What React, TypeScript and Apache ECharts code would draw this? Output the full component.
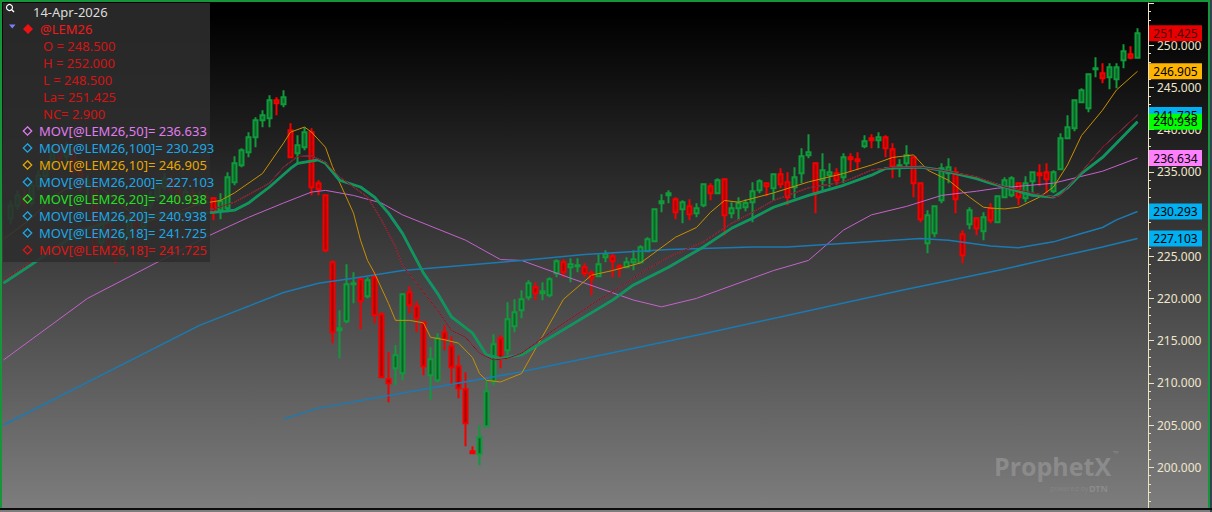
import React, { useEffect, useRef } from "react";
import * as echarts from "echarts";

const W = 1212;
const H = 512;

// Candles: [open, close, low, high], oldest first
const candles: [number, number, number, number][] = [
  [229.5, 231.0, 228.8, 231.6], [231.0, 232.2, 230.5, 232.8], [232.0, 231.2, 230.6, 232.9], [231.3, 233.4, 230.9, 233.9],
  [233.3, 234.6, 232.8, 235.2], [234.5, 235.8, 234.0, 236.4], [235.9, 237.6, 235.3, 238.2], [237.8, 236.6, 236.1, 238.6],
  [236.8, 237.9, 235.9, 238.5], [237.5, 235.0, 234.6, 238.0], [235.0, 233.2, 232.6, 235.6], [233.3, 233.9, 232.1, 234.6],
  [233.5, 226.4, 225.8, 233.9], [226.6, 228.9, 225.9, 229.6], [229.1, 226.3, 225.6, 229.5], [226.2, 224.8, 224.2, 227.0],
  [225.0, 227.6, 224.6, 228.1], [227.7, 229.4, 227.0, 230.0], [229.2, 228.4, 227.8, 229.9], [228.5, 231.0, 228.1, 231.5],
  [231.1, 232.1, 230.6, 232.7], [232.0, 233.3, 231.5, 233.9], [233.2, 234.2, 232.8, 234.9], [234.1, 232.9, 232.4, 234.6],
  [232.9, 231.8, 231.2, 233.4], [231.7, 232.6, 231.2, 233.1], [232.5, 231.3, 230.8, 233.0], [231.4, 232.1, 230.9, 232.7],
  [232.0, 231.9, 231.3, 232.6], [231.87, 230.21, 229.26, 232.0], [230.45, 231.52, 229.38, 232.46], [230.69, 234.36, 230.21, 234.95],
  [233.77, 236.02, 233.41, 236.85], [235.78, 237.56, 235.54, 237.8], [237.32, 239.1, 236.73, 239.69], [239.1, 241.11, 237.9, 241.47],
  [241.11, 241.71, 240.28, 242.3], [241.35, 243.48, 240.28, 244.08], [243.48, 243.13, 241.71, 243.84], [243.0, 243.84, 242.65, 244.67],
  [239.93, 236.73, 236.6, 240.76], [237.2, 238.15, 236.02, 239.34], [237.91, 239.69, 237.56, 240.28], [239.69, 233.18, 232.23, 240.17],
  [233.65, 232.94, 232.23, 234.0], [232.23, 225.71, 225.47, 232.35], [224.29, 216.0, 214.69, 224.5], [216.23, 216.47, 212.91, 218.6],
  [217.3, 221.68, 217.06, 224.05], [221.68, 221.8, 219.43, 223.1], [222.27, 219.67, 216.35, 222.51], [220.26, 222.16, 220.02, 222.51],
  [222.51, 218.01, 217.06, 223.1], [218.13, 210.66, 210.55, 218.36], [210.43, 209.95, 207.7, 213.63], [211.73, 213.27, 209.72, 214.45],
  [211.14, 220.5, 210.31, 220.62], [220.74, 219.19, 218.25, 221.45], [219.08, 217.65, 215.99, 219.67], [217.18, 211.97, 210.9, 217.3],
  [210.9, 212.8, 207.94, 214.22], [210.31, 215.28, 210.07, 215.88], [216.0, 215.17, 213.86, 216.82], [214.34, 211.85, 209.72, 215.52],
  [211.97, 209.36, 208.18, 213.27], [209.24, 205.21, 202.49, 211.26], [201.9, 201.66, 201.66, 202.49], [201.54, 203.55, 200.24, 204.98],
  [204.86, 209.0, 204.74, 210.31], [210.19, 214.57, 209.72, 215.76], [215.28, 212.91, 211.73, 215.64], [213.86, 217.54, 213.27, 219.55],
  [216.71, 218.36, 215.99, 219.91], [218.6, 219.91, 217.65, 220.97], [220.14, 221.8, 219.79, 222.16], [221.33, 220.62, 219.79, 221.92],
  [220.62, 220.85, 219.79, 221.92], [220.38, 222.27, 220.14, 222.51], [222.98, 224.41, 222.51, 224.64], [224.29, 223.1, 222.51, 224.64],
  [223.7, 224.05, 221.92, 224.76], [223.82, 223.93, 223.1, 224.76], [223.7, 222.98, 222.51, 224.17], [222.98, 222.39, 220.38, 223.34],
  [222.63, 224.05, 222.51, 225.24], [224.88, 225.24, 224.29, 225.71], [225.0, 224.41, 222.51, 225.36], [223.82, 223.58, 222.51, 224.05],
  [223.7, 224.29, 223.58, 224.88], [224.29, 224.64, 223.34, 225.71], [224.29, 226.07, 224.17, 226.3], [225.59, 227.01, 225.47, 227.25],
  [226.78, 230.57, 226.66, 230.69], [231.28, 231.52, 230.21, 232.35], [232.23, 232.46, 231.28, 232.82], [231.75, 230.21, 229.38, 231.99],
  [230.57, 231.4, 228.91, 231.64], [230.92, 229.98, 229.26, 231.75], [230.09, 230.69, 229.62, 231.28], [231.04, 233.53, 230.81, 233.65],
  [233.29, 232.46, 231.64, 233.65], [232.46, 234.0, 232.35, 234.24], [234.12, 229.86, 227.49, 234.24], [230.09, 230.69, 229.5, 231.4],
  [230.69, 231.28, 229.26, 231.99], [230.8, 231.3, 230.33, 231.75], [231.4, 232.7, 229.03, 233.77], [232.82, 233.89, 232.46, 234.12],
  [233.65, 233.29, 232.11, 233.77], [233.06, 234.72, 231.64, 234.83], [234.72, 233.53, 233.06, 235.43], [233.77, 231.99, 231.04, 234.95],
  [233.18, 234.36, 231.87, 235.55], [234.83, 236.85, 233.65, 237.8], [236.97, 237.32, 236.61, 239.45], [236.02, 232.46, 230.09, 236.14],
  [234.0, 235.19, 232.82, 237.2], [234.6, 234.95, 233.18, 236.02], [234.83, 234.0, 233.41, 235.43], [234.36, 236.73, 233.65, 237.2],
  [236.73, 236.49, 234.95, 237.2], [236.49, 236.26, 235.19, 237.32], [238.03, 238.63, 237.8, 239.34], [238.98, 238.74, 237.8, 239.45],
  [238.74, 239.1, 237.8, 239.69], [239.1, 237.8, 236.73, 239.34], [237.68, 235.66, 234.24, 238.39], [235.55, 235.78, 234.36, 236.49],
  [236.02, 236.97, 235.43, 238.15], [236.73, 233.65, 231.99, 236.85], [233.65, 229.38, 229.03, 233.77], [226.54, 229.86, 225.36, 230.45],
  [227.73, 230.92, 227.25, 231.04], [231.64, 235.43, 231.28, 236.02], [234.83, 235.55, 233.65, 236.61], [234.95, 231.75, 230.09, 235.55],
  [227.61, 225.12, 224.17, 228.08], [228.79, 230.45, 228.2, 230.81], [229.5, 228.32, 227.49, 229.62], [227.96, 229.62, 226.9, 230.21],
  [230.69, 229.26, 228.91, 231.28], [229.03, 232.11, 228.91, 232.23], [231.99, 234.0, 231.87, 234.36], [232.23, 234.24, 231.99, 234.48],
  [233.65, 231.99, 231.04, 233.77], [231.87, 233.65, 231.4, 234.48], [233.89, 234.95, 232.58, 235.07], [234.83, 234.6, 233.29, 235.9],
  [234.95, 234.12, 232.46, 236.02], [232.7, 234.95, 232.46, 235.19], [235.31, 238.98, 235.19, 239.57], [238.98, 240.28, 238.86, 241.71],
  [240.17, 243.48, 239.81, 243.6], [243.25, 244.67, 243.13, 244.91], [242.54, 246.56, 242.06, 246.68], [247.16, 247.27, 246.21, 248.58],
  [246.68, 246.09, 245.5, 247.87], [246.21, 247.39, 244.79, 247.87], [245.97, 247.39, 244.91, 247.87], [248.22, 249.29, 247.27, 250.12],
  [248.93, 248.525, 248.34, 249.88], [248.5, 251.425, 248.5, 252.0],
];

// Moving averages: [candle index, value]; index -1 = left edge
const ma10: [number, number][] = [
  [-1, 227.0], [3, 229.5], [6, 232.0], [10, 234.0], [13, 233.0], [16, 231.0], [19, 229.0], [23, 230.0], [27, 231.2],
  [30, 231.6], [32, 232.5], [36, 234.8], [39, 238.4], [40, 239.7], [42, 240.3], [43, 239.7], [45, 237.9], [46, 235.6],
  [49, 230.1], [50, 226.9], [51, 224.5], [52, 223.0], [54, 219.4], [55, 217.4], [57, 217.4], [59, 217.1], [60, 215.4],
  [62, 215.1], [64, 214.7], [66, 213.0], [67, 211.1], [68, 210.3], [70, 210.1], [73, 211.1], [76, 215.5], [79, 219.9],
  [83, 222.75], [86, 223.3], [90, 224.2], [95, 227.25], [98, 228.4], [100, 230.2], [102, 231.6], [104, 231.4], [109, 232.5],
  [114, 233.8], [119, 234.8], [123, 235.8], [126, 236.7], [129, 237.0], [131, 235.2], [134, 234.0], [137, 232.0],
  [139, 230.8], [140, 230.7], [142, 230.6], [144, 230.8], [147, 232.0], [149, 233.2], [151, 235.8], [153, 239.3],
  [156, 242.3], [158, 244.7], [161, 246.905],
];
const ma18: [number, number][] = [
  [-1, 222.2], [3, 224.3], [10, 228.3], [16, 229.9], [22, 230.3], [29, 230.6], [32, 231.4], [37, 233.65], [39, 235.55],
  [41, 236.8], [43, 236.9], [45, 236.1], [47, 234.4], [49, 233.2], [51, 232.0], [53, 229.3], [55, 226.1], [56, 223.9],
  [58, 221.8], [61, 218.6], [63, 216.2], [65, 215.4], [67, 213.5], [69, 212.7], [71, 212.9], [73, 213.5], [78, 216.5],
  [84, 219.8], [87, 221.3], [90, 223.0], [94, 224.9], [99, 226.7], [103, 228.9], [106, 230.2], [109, 231.6], [114, 233.1],
  [119, 233.8], [123, 235.2], [126, 235.55], [130, 235.55], [133, 235.2], [138, 234.4], [140, 233.8], [142, 233.2],
  [146, 232.5], [149, 232.0], [150, 232.2], [153, 235.0], [156, 237.9], [161, 241.725],
];
const ma20: [number, number][] = [
  [-1, 221.8], [3, 224.0], [10, 228.0], [16, 229.6], [22, 229.9], [29, 230.2], [32, 230.45], [34, 231.3], [37, 233.2],
  [40, 235.4], [41, 236.0], [44, 236.4], [45, 236.0], [47, 234.0], [50, 233.2], [52, 232.0], [54, 230.1], [56, 227.7],
  [59, 223.0], [61, 220.6], [63, 217.8], [66, 215.9], [68, 213.3], [70, 212.9], [73, 213.3], [79, 216.3], [86, 219.8],
  [89, 221.6], [94, 223.7], [99, 226.1], [103, 228.3], [106, 229.5], [109, 230.8], [114, 232.2], [119, 233.4], [123, 234.6],
  [125, 235.4], [130, 235.55], [133, 235.2], [138, 234.2], [140, 233.65], [142, 233.2], [146, 232.2], [149, 232.0],
  [151, 233.1], [153, 234.8], [156, 236.7], [161, 240.938],
];
const ma50: [number, number][] = [
  [-1, 212.7], [11, 220.0], [28, 227.3], [34, 229.6], [39, 231.3], [43, 232.6], [45, 232.8], [49, 232.2], [53, 231.3],
  [56, 229.9], [65, 226.9], [70, 224.6], [73, 224.5], [80, 222.4], [89, 219.8], [93, 219.0], [98, 220.0], [106, 222.4],
  [109, 223.3], [114, 224.5], [119, 228.1], [123, 229.9], [128, 230.9], [133, 232.2], [138, 232.7], [141, 233.06],
  [149, 233.65], [156, 235.07], [161, 236.634],
];
const ma100: [number, number][] = [
  [-1, 205.0], [13, 210.9], [27, 216.8], [39, 220.7], [44, 221.8], [49, 222.4], [56, 223.3], [73, 224.5], [82, 225.2],
  [94, 225.8], [106, 226.1], [111, 226.1], [130, 227.1], [134, 226.9], [140, 226.2], [144, 226.0], [149, 226.7],
  [153, 227.7], [156, 228.4], [158, 229.3], [161, 230.293],
];
const ma200: [number, number][] = [
  [39, 205.7], [44, 207.0], [73, 211.3], [99, 215.8], [127, 220.9], [141, 223.3], [149, 224.8], [156, 226.1], [161, 227.103],
];

// Legend texts
const dateLabel = "14-Apr-2026";
const symbolLabel = "@LEM26";
const quoteLabels = ["O = 248.500", "H = 252.000", "L = 248.500", "La= 251.425", "NC= 2.900"];
const movLabels = [
  "MOV[@LEM26,50]= 236.633",
  "MOV[@LEM26,100]= 230.293",
  "MOV[@LEM26,10]= 246.905",
  "MOV[@LEM26,200]= 227.103",
  "MOV[@LEM26,20]= 240.938",
  "MOV[@LEM26,20]= 240.938",
  "MOV[@LEM26,18]= 241.725",
  "MOV[@LEM26,18]= 241.725",
];
const movColors = ["#e07cf0", "#1ca8e8", "#e8a800", "#1ca8e8", "#22e022", "#1ca8e8", "#1ca8e8", "#e01414"];

// Price tags on the axis
const tagValues = [251.425, 246.905, 241.725, 240.938, 236.634, 230.293, 227.103];
const tagColors = ["#e80000", "#ffb400", "#00b0f0", "#00ff00", "#ff80ff", "#00b0f0", "#00b0f0"];
const tagTextColors = ["#4a0000", "#000000", "#000000", "#000000", "#000000", "#000000", "#000000"];

const FONT = "'Noto Sans', 'DejaVu Sans', sans-serif";
const SLOTS = candles.length + 2;
const SLOT_W = 7;

function sparse(points: [number, number][]) {
  const arr: (number | null)[] = new Array(SLOTS).fill(null);
  for (const [i, v] of points) arr[i + 1] = v;
  return arr;
}

function diamond(cx: number, cy: number, r: number) {
  return [[cx, cy - r], [cx + r, cy], [cx, cy + r], [cx - r, cy]];
}

export default function App() {
  const ref = useRef<HTMLDivElement>(null);
  useEffect(() => {
    const el = ref.current;
    if (!el) return;
    const chart = echarts.init(el, undefined, { renderer: "svg", width: W, height: H });

    const cats = Array.from({ length: SLOTS }, (_, k) => String(k));
    const cdata: any[] = Array.from({ length: SLOTS }, (_, k) =>
      k >= 1 && k <= candles.length ? candles[k - 1] : "-"
    );

    const line = (name: string, pts: [number, number][], color: string, width: number, z = 3) => ({
      name,
      type: "line",
      data: sparse(pts),
      connectNulls: true,
      showSymbol: false,
      symbol: "none",
      smooth: false,
      z,
      lineStyle: { color, width },
      silent: true,
    });

    const base: any[] = [];
    // legend box
    base.push({ type: "rect", z: 100, shape: { x: 3, y: 3, width: 207, height: 259 }, style: { fill: "rgba(46,46,46,0.88)" } });
    // magnifier
    base.push({ type: "circle", z: 101, shape: { cx: 9.5, cy: 7.5, r: 3 }, style: { fill: "none", stroke: "#ffffff", lineWidth: 1.2 } });
    base.push({ type: "line", z: 101, shape: { x1: 11.7, y1: 9.7, x2: 14, y2: 12 }, style: { stroke: "#ffffff", lineWidth: 1.4 } });
    base.push({ type: "text", z: 101, x: 33, y: 12, style: { text: dateLabel, fill: "#dcdcdc", font: `13px ${FONT}`, textVerticalAlign: "middle" } });
    base.push({ type: "polygon", z: 101, shape: { points: [[9, 24.5], [15.5, 24.5], [12.25, 28.5]] }, style: { fill: "#7c7cff" } });
    base.push({ type: "polygon", z: 101, shape: { points: diamond(28, 29, 5) }, style: { fill: "#ee1111" } });
    base.push({ type: "text", z: 101, x: 40, y: 29, style: { text: symbolLabel, fill: "#f01a1a", font: `13px ${FONT}`, textVerticalAlign: "middle" } });
    quoteLabels.forEach((t, k) => {
      base.push({ type: "text", z: 101, x: 43, y: 46 + 17 * k, style: { text: t, fill: "#d41414", font: `13px ${FONT}`, textVerticalAlign: "middle" } });
    });
    movLabels.forEach((t, k) => {
      const y = 131 + 17 * k;
      base.push({ type: "polygon", z: 101, shape: { points: diamond(27.5, y, 4.2) }, style: { fill: "none", stroke: movColors[k], lineWidth: 1.3 } });
      base.push({ type: "text", z: 101, x: 39, y, style: { text: t, fill: movColors[k], font: `13px ${FONT}`, textVerticalAlign: "middle" } });
    });
    // watermark
    base.push({ type: "text", z: 90, x: 994, y: 466, style: { text: "ProphetX", fill: "#8b8b8b", font: `bold 25px 'Open Sans', ${FONT}`, textVerticalAlign: "middle" } });
    base.push({ type: "text", z: 90, x: 1113, y: 453, style: { text: "™", fill: "#8b8b8b", font: `7px ${FONT}`, textVerticalAlign: "middle" } });
    base.push({ type: "text", z: 90, x: 1050, y: 488, style: { text: "powered by", fill: "#848484", font: `7px ${FONT}`, textVerticalAlign: "middle" } });
    base.push({ type: "text", z: 90, x: 1089, y: 488, style: { text: "DTN", fill: "#8b8b8b", font: `bold 9px ${FONT}`, textVerticalAlign: "middle" } });
    // frame
    base.push({ type: "rect", z: 120, shape: { x: 0, y: 0, width: W, height: 2 }, style: { fill: "#16963a" } });
    base.push({ type: "rect", z: 120, shape: { x: 0, y: 0, width: 2, height: 509 }, style: { fill: "#16963a" } });
    base.push({ type: "rect", z: 120, shape: { x: 1208, y: 0, width: 2, height: 509 }, style: { fill: "#16963a" } });
    base.push({ type: "rect", z: 120, shape: { x: 1210, y: 0, width: 2, height: 512 }, style: { fill: "#34414e" } });
    base.push({ type: "rect", z: 120, shape: { x: 0, y: 508, width: W, height: 2 }, style: { fill: "#0c0c0c" } });

    const option: any = {
      animation: false,
      backgroundColor: "transparent",
      grid: { left: 0, top: 3, width: SLOTS * SLOT_W, height: 506.4, containLabel: false },
      xAxis: {
        type: "category",
        data: cats,
        boundaryGap: true,
        axisLine: { show: false },
        axisTick: { show: false },
        axisLabel: { show: false },
        splitLine: { show: false },
      },
      yAxis: {
        type: "value",
        position: "right",
        min: 195,
        max: 255,
        interval: 5,
        scale: true,
        axisLine: { show: true, lineStyle: { color: "#ece2c4", width: 1 } },
        axisTick: { show: true, length: 6, lineStyle: { color: "#ece2c4" } },
        minorTick: { show: true, splitNumber: 5, length: 3, lineStyle: { color: "#ece2c4" } },
        axisLabel: {
          show: true,
          margin: 9,
          color: "#efe6cc",
          fontFamily: FONT,
          fontSize: 12,
          showMinLabel: false,
          showMaxLabel: false,
          formatter: (v: number) => v.toFixed(3),
        },
        splitLine: { show: false },
      },
      series: [
        {
          type: "candlestick",
          data: cdata,
          barWidth: 5,
          z: 2,
          itemStyle: {
            color: "#086526",
            color0: "#a80000",
            borderColor: "#109a3c",
            borderColor0: "#f40000",
            borderWidth: 2,
          },
        },
        line("MOV50", ma50, "#c462cc", 1),
        line("MOV200", ma200, "#1a7bb4", 1.5),
        line("MOV100", ma100, "#1a7bb4", 1.5),
        line("MOV10", ma10, "#c88f00", 1),
        line("MOV20c", ma20, "#168aa0", 2.8),
        line("MOV20", ma20, "#0f9e34", 1.6),
        line("MOV18c", ma18, "#1aa0d8", 1),
        line("MOV18", ma18, "#a80000", 1),
      ],
      graphic: base,
    };
    chart.setOption(option);

    const tags: any[] = [];
    tagValues.forEach((v, k) => {
      const y = chart.convertToPixel({ yAxisIndex: 0 }, v) as number;
      tags.push({ type: "rect", z: 110, shape: { x: 1149, y: y - 8, width: 53, height: 16 }, style: { fill: tagColors[k] } });
      tags.push({
        type: "text",
        z: 111,
        x: 1175.5,
        y,
        style: { text: v.toFixed(3), fill: tagTextColors[k], font: `12px ${FONT}`, textAlign: "center", textVerticalAlign: "middle" },
      });
    });
    chart.setOption({ graphic: [...base, ...tags] });

    return () => chart.dispose();
  }, []);

  return (
    <div
      ref={ref}
      style={{
        position: "fixed",
        left: 0,
        top: 0,
        width: W,
        height: H,
        background: "linear-gradient(to bottom, #000000 0px, #000000 14px, #7e7e7e 512px)",
      }}
    />
  );
}
